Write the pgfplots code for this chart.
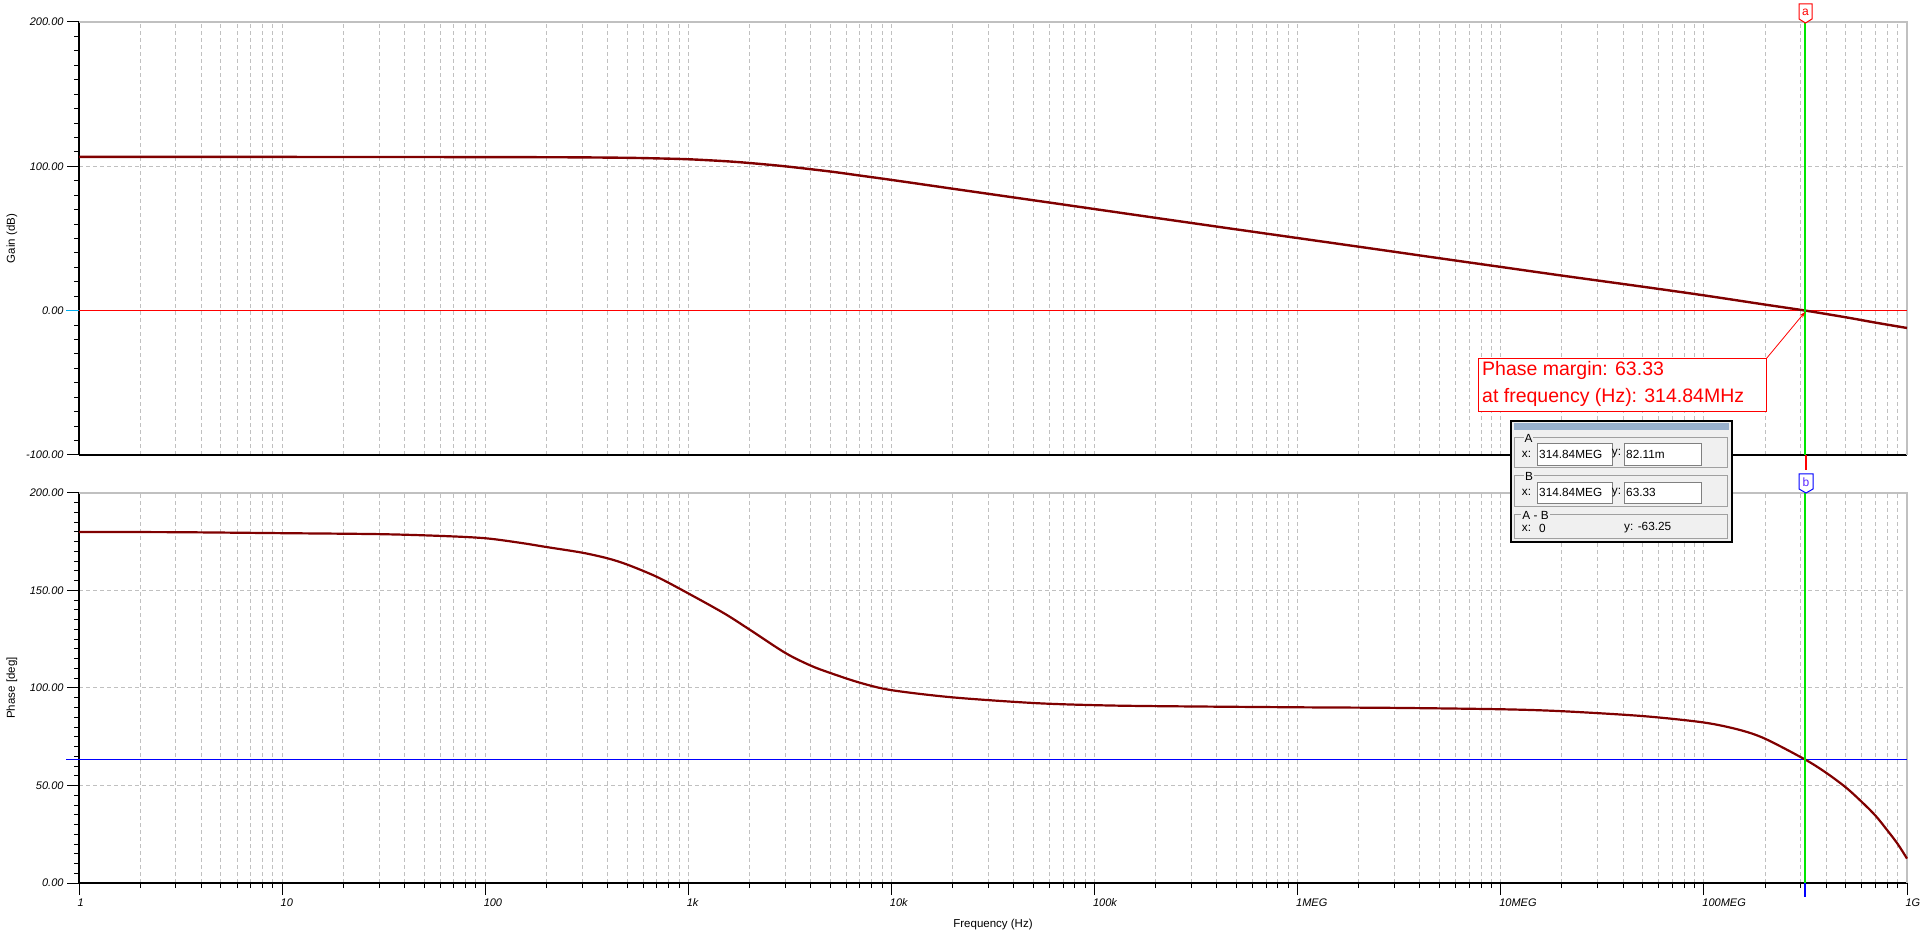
\documentclass[border=0pt]{standalone}
\usepackage{pgfplots}
\pgfplotsset{compat=1.18}
\usepackage{fontspec}
\setmainfont{Liberation Sans}
\usetikzlibrary{arrows.meta}
\definecolor{curve}{RGB}{128,0,0}
\definecolor{bordergray}{RGB}{192,192,192}
\definecolor{gridgray}{RGB}{192,192,192}
\definecolor{cursorgreen}{RGB}{0,230,0}
\definecolor{winbg}{RGB}{240,240,240}
\definecolor{wintitle}{RGB}{152,176,204}
\definecolor{framegray}{RGB}{160,160,160}
\definecolor{bletter}{RGB}{90,40,255}

\pgfplotstableread{
f g
1 106.5
10 106.5
100 106.4
200 106.3
300 106.2
500 105.9
700 105.5
1000 104.9
1500 103.6
2000 102.3
3000 100.0
5000 96.4
7000 93.6
10000 90.6
20000 84.5
50000 76.5
100000 70.4
200000 64.3
500000 56.3
1e6 50.3
2e6 44.3
5e6 36.3
1e7 30.3
2e7 24.3
5e7 16.6
1e8 10.6
2e8 4.2
3.1484e8 0.08
5e8 -4.6
7e8 -8.3
1e9 -12.0
}\gaintable

\pgfplotstableread{
f p
1 180.0
3 179.9
10 179.4
30 178.9
60 178.0
100 176.8
150 174.4
200 172.3
300 169.4
400 166.5
500 163.3
700 157.0
1000 148.5
1500 138.3
2000 130.0
3000 118.0
4000 111.5
5000 107.7
7000 102.7
10000 98.9
20000 95.2
50000 92.3
100000 91.2
200000 90.7
1e6 90.1
3e6 89.8
1e7 89.1
2e7 88.1
5e7 85.6
1e8 82.3
1.5e8 78.5
2e8 74.0
3.1484e8 63.33
4e8 56.5
5e8 49.0
6e8 41.5
7e8 34.5
8e8 27.0
9e8 20.0
1e9 12.5
}\phasetable

\begin{document}
\begin{tikzpicture}[x=1pt,y=1pt]
\path[use as bounding box] (0,0) rectangle (1921,937);

% ---------- Gain ----------
\begin{axis}[
  scale only axis, width=1828pt, height=433pt,
  at={(79pt,482pt)}, anchor=south west,
  xmode=log, xmin=1, xmax=1e9,
  ymin=-100, ymax=200,
  axis x line*=bottom, axis y line*=left,
  axis line style={-, black, line width=1.3pt},
  tick align=outside,
  major tick length=12pt, minor tick length=5pt,
  tick style={black, line width=1pt},
  xmajorgrids, xminorgrids, ymajorgrids,
  major grid style={draw=gridgray, dash pattern=on 4pt off 3pt, line width=1pt},
  minor grid style={draw=gridgray, dash pattern=on 4pt off 3pt, line width=1pt},
  tick label style={font=\fontsize{11}{13}\selectfont\itshape},
  xtick={1,1e1,1e2,1e3,1e4,1e5,1e6,1e7,1e8,1e9},
  xticklabels={},
  xtick style={draw=none},
  ytick={-100,0,100,200},
  yticklabels={-100.00,0.00,100.00,200.00},
  minor y tick num=9,
  clip=false,
]
\draw[bordergray, line width=1.3pt] (rel axis cs:0,1) -- (rel axis cs:1,1) -- (rel axis cs:1,0);
\draw[red, line width=1pt] (axis cs:1,0) -- (axis cs:1e9,0);
\draw[cyan, line width=1.2pt] ([xshift=-13pt]axis cs:1,0) -- (axis cs:1,0);
\addplot[curve, line width=2.4pt, no marks, smooth] table[x=f, y=g] {\gaintable};
\draw[cursorgreen, line width=1.3pt] (axis cs:3.1484e8,-100) -- (axis cs:3.1484e8,200);
\node[rotate=90, font=\fontsize{11.5}{13}\selectfont] at ([xshift=-67pt]rel axis cs:0,0.5) {Gain (dB)};
\end{axis}

% ---------- Phase ----------
\begin{axis}[
  scale only axis, width=1828pt, height=390pt,
  at={(79pt,54pt)}, anchor=south west,
  xmode=log, xmin=1, xmax=1e9,
  ymin=0, ymax=200,
  axis x line*=bottom, axis y line*=left,
  axis line style={-, black, line width=1.3pt},
  tick align=outside,
  major tick length=12pt, minor tick length=5pt,
  tick style={black, line width=1pt},
  xmajorgrids, xminorgrids, ymajorgrids,
  major grid style={draw=gridgray, dash pattern=on 4pt off 3pt, line width=1pt},
  minor grid style={draw=gridgray, dash pattern=on 4pt off 3pt, line width=1pt},
  tick label style={font=\fontsize{11}{13}\selectfont\itshape},
  xtick={1,1e1,1e2,1e3,1e4,1e5,1e6,1e7,1e8,1e9},
  xticklabels={1,10,100,1k,10k,100k,1MEG,10MEG,100MEG,1G},
  xticklabel style={anchor=north west, xshift=-5pt},
  ytick={0,50,100,150,200},
  yticklabels={0.00,50.00,100.00,150.00,200.00},
  minor y tick num=9,
  clip=false,
  xlabel={Frequency (Hz)},
  xlabel style={at={(rel axis cs:0.5,0)}, yshift=-42pt, anchor=center, font=\fontsize{11.5}{13}\selectfont},
]
\draw[bordergray, line width=1.3pt] (rel axis cs:0,1) -- (rel axis cs:1,1) -- (rel axis cs:1,0);
\draw[blue, line width=1.3pt] ([xshift=-13pt]axis cs:1,63.33) -- (axis cs:1e9,63.33);
\addplot[curve, line width=2.2pt, no marks, smooth] table[x=f, y=p] {\phasetable};
\draw[cursorgreen, line width=1.3pt] (axis cs:3.1484e8,0) -- (axis cs:3.1484e8,200);
\draw[blue, line width=1.3pt] (axis cs:3.1484e8,0) -- ([yshift=-14pt]axis cs:3.1484e8,0);
\node[rotate=90, font=\fontsize{11.5}{13}\selectfont] at ([xshift=-67pt]rel axis cs:0,0.5) {Phase [deg]};
\end{axis}

% ---------- annotations (y measured downward) ----------
\begin{scope}[shift={(0,937)}, yscale=-1]
  \draw[red, fill=white, line width=1pt] (1799,4) -- (1812,4) -- (1812,19) -- (1805.5,23) -- (1799,19) -- cycle;
  \node[text=red, font=\fontsize{12}{12}\selectfont, inner sep=0] at (1805.5,12) {a};
  \draw[red, line width=1.2pt] (1806,455) -- (1806,470);
  \draw[blue, fill=white, line width=1pt] (1799,474) -- (1813,474) -- (1813,489) -- (1806,493) -- (1799,489) -- cycle;
  \node[text=bletter, font=\fontsize{12}{12}\selectfont, inner sep=0] at (1806,482) {b};

  \draw[red, line width=0.8pt, -{Stealth[length=6pt,width=4pt]}] (1766,359) -- (1805,312);
  \draw[red, fill=white, line width=1pt] (1478,359) rectangle (1766,412);
  \node[anchor=north west, text=red, font=\fontsize{19.5}{26.7}\selectfont, align=left, inner sep=0] at (1482,361)
    {Phase margin: 63.33\\at frequency (Hz): 314.84MHz};

  \draw[black, fill=winbg, line width=1.5pt] (1511,421) rectangle (1732,542);
  \fill[wintitle] (1514,423) rectangle (1729,430);
  \begin{scope}[every node/.style={font=\fontsize{11.8}{13}\selectfont, inner sep=0}]
    \draw[framegray, line width=0.8pt] (1514,437) rectangle (1727,467);
    \node[fill=winbg, inner xsep=1pt] at (1528.5,438) {A};
    \node at (1526.5,454) {x:};
    \draw[gray, fill=white, line width=0.8pt] (1537,443) rectangle (1612,465);
    \node[anchor=west] at (1539,454) {314.84MEG};
    \node at (1616.5,454) {y:};
    \draw[gray, fill=white, line width=0.8pt] (1624,443) rectangle (1701,465);
    \node[anchor=west] at (1626,454) {82.11m};

    \draw[framegray, line width=0.8pt] (1514,475) rectangle (1727,506);
    \node[fill=winbg, inner xsep=1pt] at (1529,476.5) {B};
    \node at (1526.5,492.5) {x:};
    \draw[gray, fill=white, line width=0.8pt] (1537,482) rectangle (1612,503);
    \node[anchor=west] at (1539,492.5) {314.84MEG};
    \node at (1616.5,492.5) {y:};
    \draw[gray, fill=white, line width=0.8pt] (1624,482) rectangle (1701,503);
    \node[anchor=west] at (1626,492.5) {63.33};

    \draw[framegray, line width=0.8pt] (1514,514) rectangle (1727,538);
    \node[fill=winbg, inner xsep=1pt] at (1535.5,515.5) {A - B};
    \node at (1526.5,528) {x:};
    \node[anchor=west] at (1539,528) {0};
    \node[anchor=west] at (1624,528) {y: -63.25};
  \end{scope}
\end{scope}
\end{tikzpicture}
\end{document}
